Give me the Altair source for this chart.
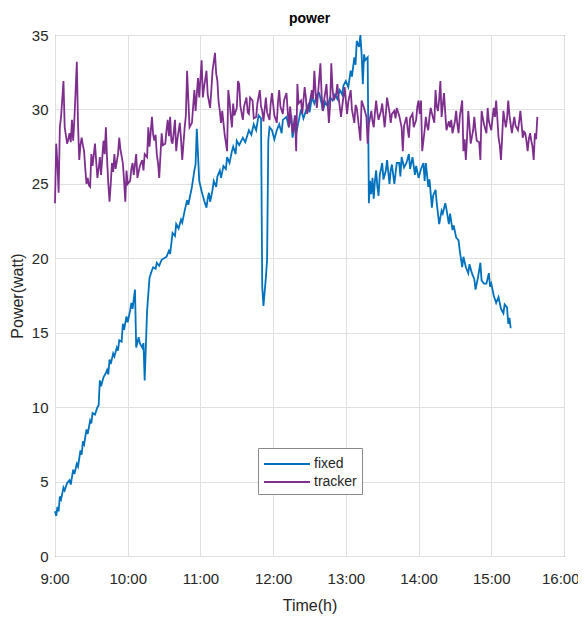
import altair as alt
import pandas as pd

# minutes after 9:00 and power (W) of the fixed panel
fixed_min = [
    0, 1, 2, 3, 4, 5, 7, 8, 10, 12,
    13, 15, 16, 18, 19, 21, 22, 23, 24, 26,
    27, 29, 30, 31, 33, 35, 36, 37, 38, 40,
    42, 43, 44, 45, 46, 48, 49, 51, 52, 53,
    55, 56, 57, 59, 60, 62, 63, 64, 66, 67,
    69, 70, 72, 73, 74, 76, 78, 80, 81, 83,
    84, 86, 88, 90, 92, 94, 95, 97, 99, 100,
    102, 104, 105, 107, 109, 110, 112, 113, 115, 116,
    117, 118, 119, 121, 123, 125, 126, 127, 128, 130,
    131, 133, 134, 136, 137, 139, 141, 142, 144, 146,
    147, 149, 150, 152, 155, 157, 160, 162, 164, 166,
    168, 170, 171, 172, 174, 175, 176, 177, 179, 181,
    183, 185, 187, 188, 191, 193, 195, 196, 198, 199,
    201, 203, 205, 207, 209, 210, 212, 214, 216, 218,
    220, 221, 223, 225, 227, 229, 231, 233, 235, 237,
    238, 240, 242, 244, 245, 247, 248, 249, 251, 252,
    253, 254, 255, 256, 258, 259, 260, 261, 262, 263,
    264, 265, 266, 267, 268, 270, 271, 273, 274, 276,
    277, 278, 280, 282, 284, 285, 286, 288, 290, 292,
    293, 295, 297, 298, 300, 302, 304, 305, 306, 308,
    309, 311, 312, 314, 315, 317, 319, 320, 322, 323,
    325, 326, 328, 329, 331, 333, 334, 336, 337, 339,
    341, 342, 344, 346, 347, 349, 351, 352, 354, 356,
    358, 359, 360, 362, 364, 366, 368, 370, 371, 373,
    374, 375, 376,
]
fixed_val = [
    3.0, 2.7, 3.3, 3.0, 4.0, 3.8, 4.6, 4.4, 4.9, 5.1,
    4.8, 5.8, 5.5, 6.2, 6.0, 7.1, 6.8, 7.7, 7.5, 8.5,
    8.2, 9.1, 8.9, 9.6, 9.5, 10.0, 10.1, 11.8, 11.4, 12.0,
    12.3, 12.5, 12.2, 13.2, 12.9, 13.6, 13.4, 14.0, 13.8, 14.5,
    14.4, 15.6, 15.2, 16.1, 15.7, 16.5, 17.0, 16.6, 17.9, 14.0,
    14.7, 14.3, 14.0, 14.3, 11.8, 16.5, 18.7, 19.2, 19.4, 19.3,
    19.7, 19.5, 19.9, 20.0, 20.1, 20.5, 20.3, 21.7, 21.5, 22.3,
    22.0, 22.6, 22.4, 23.2, 23.9, 23.6, 24.4, 24.8, 25.9, 26.3,
    28.7, 27.0, 25.2, 24.5, 23.9, 23.4, 24.0, 24.4, 23.8, 24.6,
    25.2, 24.8, 25.5, 25.9, 25.4, 26.2, 26.0, 26.8, 26.4, 27.2,
    27.5, 27.0, 27.9, 27.6, 28.1, 27.8, 28.6, 28.3, 29.0, 28.6,
    29.6, 29.4, 18.1, 16.8, 18.7, 19.9, 27.9, 28.8, 28.6, 28.0,
    28.6, 29.0, 28.4, 29.3, 29.5, 28.8, 29.6, 28.1, 29.0, 28.4,
    29.2, 30.0, 29.4, 29.9, 30.3, 29.8, 30.8, 30.4, 31.0, 31.1,
    30.4, 29.9, 30.5, 30.2, 30.8, 30.6, 31.0, 30.7, 31.3, 31.0,
    31.6, 31.9, 31.5, 32.6, 32.2, 33.5, 33.0, 34.6, 34.2, 35.0,
    33.7, 31.7, 33.7, 33.3, 33.5, 23.7, 25.2, 24.3, 25.4, 24.0,
    25.2, 25.9, 24.8, 24.2, 25.6, 26.4, 25.3, 25.9, 26.6, 25.0,
    25.9, 26.3, 25.0, 26.4, 26.4, 25.5, 26.8, 26.1, 26.4, 27.0,
    26.0, 26.8, 25.6, 26.2, 25.4, 26.0, 26.4, 25.2, 26.4, 24.8,
    25.3, 23.4, 24.2, 24.6, 23.7, 22.3, 23.2, 23.0, 23.7, 23.3,
    22.3, 23.0, 21.9, 22.2, 21.4, 21.2, 20.5, 19.4, 20.1, 19.4,
    19.0, 19.6, 19.0, 18.6, 17.9, 18.7, 19.7, 18.5, 18.3, 18.3,
    19.0, 18.1, 18.3, 17.5, 17.0, 17.4, 16.6, 16.3, 16.9, 16.7,
    15.6, 16.0, 15.3,
]

# minutes after 9:00 and power (W) of the tracker panel
tracker_min = [
    0, 1, 2, 3, 4, 5, 7, 8, 10, 11,
    12, 13, 14, 15, 16, 18, 19, 20, 21, 22,
    23, 24, 25, 26, 27, 28, 29, 30, 31, 33,
    34, 35, 36, 37, 38, 40, 41, 42, 43, 44,
    45, 46, 47, 48, 49, 50, 52, 53, 54, 56,
    57, 58, 59, 60, 62, 63, 64, 65, 67, 68,
    70, 72, 73, 74, 76, 77, 78, 80, 81, 82,
    83, 84, 85, 86, 88, 89, 91, 92, 93, 94,
    95, 96, 97, 99, 100, 101, 103, 104, 105, 107,
    108, 109, 111, 113, 114, 115, 116, 118, 119, 121,
    122, 123, 125, 126, 128, 129, 130, 132, 133, 134,
    135, 136, 137, 138, 140, 142, 143, 144, 145, 146,
    147, 148, 150, 151, 152, 153, 155, 156, 158, 159,
    160, 161, 163, 164, 166, 167, 169, 170, 171, 172,
    174, 175, 177, 178, 179, 181, 183, 184, 185, 186,
    188, 189, 191, 192, 193, 194, 196, 198, 199, 200,
    201, 203, 204, 206, 207, 208, 210, 212, 213, 214,
    215, 216, 217, 219, 220, 221, 222, 224, 225, 226,
    227, 228, 229, 230, 232, 233, 234, 236, 237, 239,
    240, 241, 242, 244, 245, 247, 248, 249, 250, 252,
    253, 255, 257, 258, 259, 261, 262, 263, 264, 265,
    266, 267, 269, 270, 271, 272, 273, 274, 276, 277,
    278, 280, 281, 282, 284, 286, 287, 288, 290, 291,
    292, 293, 295, 296, 298, 299, 300, 301, 302, 303,
    305, 306, 307, 308, 309, 310, 312, 313, 314, 315,
    316, 317, 318, 319, 320, 321, 322, 323, 325, 326,
    327, 328, 330, 331, 332, 333, 334, 336, 337, 338,
    339, 340, 341, 342, 343, 345, 346, 347, 348, 350,
    351, 352, 354, 356, 357, 358, 360, 361, 362, 363,
    364, 365, 366, 367, 368, 369, 370, 371, 372, 373,
    374, 375, 377, 378, 379, 380, 382, 383, 384, 385,
    386, 387, 388, 389, 390, 391, 392, 393, 394, 395,
    396, 397, 398,
]
tracker_val = [
    23.7, 27.7, 26.4, 24.4, 28.8, 29.5, 31.9, 28.8, 27.7, 28.0,
    28.4, 27.8, 29.3, 27.9, 29.3, 33.2, 29.0, 26.6, 27.6, 28.1,
    27.6, 27.2, 26.0, 25.0, 25.4, 24.9, 24.8, 27.0, 26.2, 27.7,
    26.5, 25.4, 26.0, 26.8, 25.6, 27.9, 27.0, 28.8, 26.6, 25.0,
    23.8, 25.0, 26.4, 25.8, 27.0, 26.0, 27.0, 28.1, 27.3, 26.4,
    25.2, 23.8, 25.9, 25.0, 25.2, 26.0, 26.4, 25.6, 27.0, 25.4,
    26.2, 26.6, 25.9, 27.0, 26.8, 28.8, 27.5, 29.5, 28.3, 27.9,
    28.3, 27.0, 26.4, 25.4, 28.4, 27.6, 27.7, 28.6, 29.3, 28.2,
    29.5, 27.9, 27.7, 29.3, 27.2, 28.0, 29.1, 28.0, 26.6, 28.8,
    29.6, 32.6, 28.8, 29.1, 30.2, 31.3, 29.9, 32.1, 30.8, 33.3,
    30.8, 31.5, 32.6, 31.0, 30.1, 31.3, 32.6, 33.8, 32.4, 31.9,
    30.5, 29.9, 29.1, 29.9, 28.3, 27.2, 31.3, 30.6, 29.6, 28.8,
    30.4, 29.6, 30.1, 31.9, 31.7, 30.2, 29.3, 30.2, 30.8, 29.8,
    29.7, 30.8, 30.6, 29.4, 29.5, 30.4, 31.3, 30.2, 29.9, 29.2,
    30.8, 29.8, 29.3, 30.4, 31.1, 29.6, 29.1, 30.5, 31.3, 30.2,
    29.7, 30.6, 31.1, 29.9, 28.8, 30.2, 28.4, 29.6, 27.2, 31.7,
    30.4, 30.6, 29.7, 31.5, 30.8, 29.7, 30.4, 31.3, 30.7, 32.6,
    31.2, 30.1, 31.0, 33.1, 31.0, 29.9, 30.6, 31.7, 30.4, 29.1,
    30.3, 33.1, 31.4, 30.6, 31.0, 31.7, 30.8, 29.5, 30.2, 31.5,
    30.6, 29.7, 30.5, 31.3, 30.0, 29.1, 30.3, 30.1, 29.4, 27.9,
    30.6, 30.1, 29.5, 27.7, 29.0, 29.9, 29.2, 28.8, 29.8, 30.6,
    29.8, 29.3, 29.9, 30.4, 29.6, 28.8, 29.7, 30.8, 29.8, 29.1,
    29.7, 29.9, 29.4, 30.1, 29.6, 28.8, 27.2, 28.9, 29.5, 28.7,
    28.1, 29.4, 29.7, 28.8, 29.3, 30.2, 30.6, 29.7, 30.6, 27.2,
    28.6, 29.5, 28.9, 28.6, 29.5, 30.1, 29.4, 29.1, 31.3, 30.2,
    29.9, 30.7, 31.9, 29.5, 30.3, 31.1, 29.8, 28.6, 29.2, 28.8,
    29.3, 28.4, 29.2, 29.9, 29.0, 28.4, 29.5, 30.6, 27.2, 28.0,
    26.6, 28.1, 29.9, 28.9, 27.7, 28.6, 29.5, 28.6, 27.9, 27.8,
    26.6, 29.9, 29.0, 28.4, 30.1, 29.2, 28.6, 29.4, 30.1, 29.5,
    30.6, 29.4, 28.1, 27.6, 26.6, 28.2, 29.9, 29.3, 28.8, 29.4,
    30.6, 29.6, 28.4, 29.0, 29.5, 28.9, 28.6, 29.2, 29.9, 29.0,
    28.1, 28.5, 28.4, 27.9, 27.2, 28.0, 28.4, 27.9, 27.5, 26.6,
    28.4, 28.0, 29.5,
]

series_names = ["fixed", "tracker"]
series_colors = ["#0072BD", "#7E2F8E"]
hour_ticks = [9, 10, 11, 12, 13, 14, 15, 16]
power_ticks = [0, 5, 10, 15, 20, 25, 30, 35]

df = pd.concat([
    pd.DataFrame({"t": [9 + m / 60 for m in fixed_min], "p": fixed_val,
                  "series": "fixed", "k": range(len(fixed_min))}),
    pd.DataFrame({"t": [9 + m / 60 for m in tracker_min], "p": tracker_val,
                  "series": "tracker", "k": range(len(tracker_min))}),
], ignore_index=True)

FONT = "Liberation Sans"
TXT = "#262626"

chart = alt.Chart(df).mark_line(strokeWidth=1.8).encode(
    x=alt.X("t:Q",
            scale=alt.Scale(domain=[9, 16], nice=False, zero=False),
            axis=alt.Axis(values=hour_ticks, labelExpr="datum.value + ':00'",
                          labelFlush=True, labelFlushOffset=15, labelOverlap=False,
                          title="Time(h)", labelPadding=15, titlePadding=11)),
    y=alt.Y("p:Q",
            scale=alt.Scale(domain=[0, 35], nice=False),
            axis=alt.Axis(values=power_ticks, title="Power(watt)",
                          labelFlush=False,
                          labelPadding=7, titlePadding=6)),
    color=alt.Color("series:N",
                    scale=alt.Scale(domain=series_names, range=series_colors),
                    legend=alt.Legend(title=None, orient="none", direction="vertical",
                                      legendX=203, legendY=413,
                                      symbolType="M-1,0H3.6", symbolSize=400,
                                      symbolStrokeWidth=2, labelOffset=29,
                                      padding=5, rowPadding=0,
                                      strokeColor="#8a8a8a", fillColor="white",
                                      labelFont=FONT, labelFontSize=14,
                                      labelColor=TXT)),
    order=alt.Order("k:Q"),
).properties(
    width=509, height=521,
    title=alt.TitleParams("power", font=FONT, fontSize=14, fontWeight="bold",
                          color="#000000", anchor="middle", offset=2),
    autosize=alt.AutoSizeParams(type="none"),
    padding={"left": 47, "top": 27, "right": 14, "bottom": 61},
).configure_view(
    stroke=TXT, strokeWidth=1
).configure_axis(
    labelFont=FONT, labelFontSize=15, labelColor=TXT,
    titleFont=FONT, titleFontSize=16, titleFontWeight="normal", titleColor=TXT,
    grid=True, gridColor="#e0e0e0", gridWidth=1,
    domain=False, ticks=False,
)

chart.save("out.html", embed_options={"renderer": "svg", "actions": False})
